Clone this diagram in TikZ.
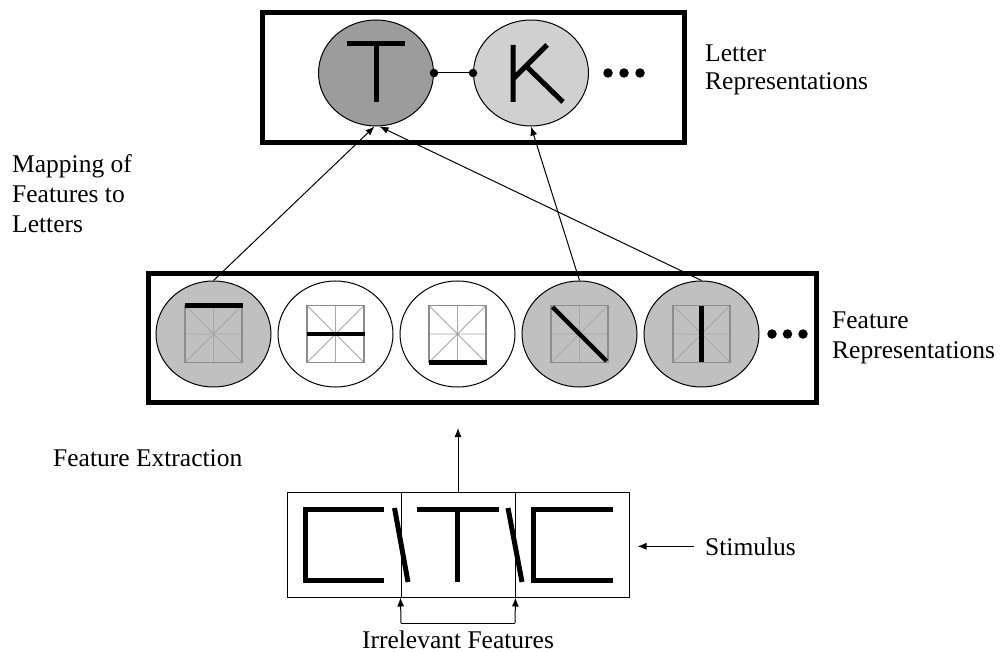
\documentclass[tikz,border=0pt]{standalone}
\usepackage{fontspec}
\setmainfont{Liberation Serif}
\usetikzlibrary{shapes.geometric,arrows.meta,calc}
\definecolor{darkfill}{HTML}{9C9C9C}
\definecolor{lightfill}{HTML}{D0D0D0}
\definecolor{featfill}{HTML}{C0C0C0}
\definecolor{gridgray}{HTML}{8C8C8C}
\definecolor{gridlight}{HTML}{A8A8A8}
\begin{document}
\begin{tikzpicture}[x=1pt,y=-1pt,
  lbl/.style={font=\fontsize{25.5}{30}\selectfont, inner sep=0pt, align=left},
  frame/.style={draw, line width=5pt, inner sep=0pt},
  unit/.style={ellipse, draw, line width=1pt, minimum width=115pt, minimum height=106pt, inner sep=0pt},
  stroke/.style={line width=5pt},
  bar/.style={line width=4.5pt},
  arr/.style={-{Latex[length=9pt,width=7pt]}, line width=1pt},
  cell/.style={draw, line width=1pt, minimum width=114pt, minimum height=105pt, inner sep=0pt},
  dot/.style={circle, fill, inner sep=0pt, minimum size=9.5pt},
  featgrid/.pic={
    \draw[gridlight, line width=0.9pt]
      (-28.5,-28.5) -- (28.5,28.5) (-28.5,28.5) -- (28.5,-28.5)
      (0,-28.5) -- (0,28.5) (-28.5,0) -- (28.5,0);
    \draw[gridgray, line width=1.6pt] (-28.5,-28.5) rectangle (28.5,28.5);
  }
]
\useasboundingbox (0,0) rectangle (1004,652);

% ---- letter level ----
\node[frame, minimum width=422pt, minimum height=130pt] (letters) at (473.5,77.5) {};
\node[unit, fill=darkfill] (T) at (376,73) {};
\node[unit, fill=lightfill] (K) at (531,73) {};
\draw[stroke] ($(T)+(-29,-29)$) -- ($(T)+(29,-29)$) ($(T)+(0,-29)$) -- ($(T)+(0,29)$);
\draw[stroke] ($(K)+(-18,-28)$) -- ($(K)+(-18,29)$)
              ($(K)+(-18,6)$) -- ($(K)+(16,-28)$)
              ($(K)+(-4,-6)$) -- ($(K)+(32,29)$);
\node[dot, minimum size=8.5pt] (tk1) at (T.east) {};
\node[dot, minimum size=8.5pt] (tk2) at (K.west) {};
\draw[line width=1pt] (tk1) -- (tk2);
\node[dot] (ld1) at (608,73) {};
\node[dot] (ld2) at (624,73) {};
\node[dot] (ld3) at (640,73) {};
\node[lbl, anchor=base west, font=\fontsize{25.5}{28}\selectfont] (letterlbl) at (705,90) {Letter\\Representations};

% ---- feature level ----
\node[frame, minimum width=668pt, minimum height=129pt] (features) at (482.5,338) {};
\node[unit, fill=featfill] (f1) at (213.5,334) {};
\node[unit, fill=white]    (f2) at (335.5,334) {};
\node[unit, fill=white]    (f3) at (457.5,334) {};
\node[unit, fill=featfill] (f4) at (579.5,334) {};
\node[unit, fill=featfill] (f5) at (701.5,334) {};
\foreach \f in {f1,f2,f3,f4,f5} \pic at (\f) {featgrid};
\draw[bar] ($(f1)+(-29,-28.5)$) -- ($(f1)+(29,-28.5)$);
\draw[bar] ($(f2)+(-29,0)$) -- ($(f2)+(29,0)$);
\draw[bar] ($(f3)+(-29,28.5)$) -- ($(f3)+(29,28.5)$);
\draw[bar] ($(f4)+(-27,-27)$) -- ($(f4)+(27,27)$);
\draw[bar] ($(f5)+(0,-28)$) -- ($(f5)+(0,28)$);
\node[dot] (fd1) at (772,334) {};
\node[dot] (fd2) at (787.5,334) {};
\node[dot] (fd3) at (803,334) {};
\node[lbl, anchor=base west] (featlbl) at (832,358) {Feature\\Representations};

% ---- mapping of features to letters ----
\draw[arr] (f1.north) -- ([xshift=-1.5pt]T.south);
\draw[arr] (f5.north) -- ([xshift=3.5pt]T.south);
\draw[arr] (f4.north) -- (K.south);
\node[lbl, anchor=base west] (maplbl) at (12,233) {Mapping of\\Features to\\Letters};

% ---- stimulus ----
\node[cell] (s1) at (344,544.5) {};
\node[cell] (s2) at (458,544.5) {};
\node[cell] (s3) at (572,544.5) {};
\draw[stroke, line join=miter] ($(s1)+(40,-35)$) -- ($(s1)+(-39,-35)$) -- ($(s1)+(-39,36)$) -- ($(s1)+(40,36)$);
\draw[stroke, line join=miter] ($(s3)+(41,-35)$) -- ($(s3)+(-39,-35)$) -- ($(s3)+(-39,36)$) -- ($(s3)+(41,36)$);
\draw[stroke] ($(s2)+(-41,-35.5)$) -- ($(s2)+(41,-35.5)$) ($(s2)+(-1,-35.5)$) -- ($(s2)+(-1,37.5)$);
\draw[stroke] ($(s1)+(50.5,-36.5)$) -- ($(s1)+(64,37.5)$);
\draw[stroke] ($(s3)+(-64,-36.5)$) -- ($(s3)+(-50,37.5)$);

% ---- feature extraction ----
\coordinate (fxtip) at (458,428);
\draw[arr] (s2.north) -- (fxtip);
\node[lbl, anchor=base west] (fxlbl) at (53,466) {Feature Extraction};

% ---- stimulus label ----
\node[lbl, anchor=base west] (stimlbl) at (705,555) {Stimulus};
\draw[arr] ([xshift=-11pt]stimlbl.west) -- ([xshift=8pt]s3.east |- stimlbl.west);

% ---- irrelevant features ----
\coordinate (ir1) at (401,623);
\coordinate (ir2) at (515,623);
\draw[arr] (ir1) -- (s2.south west);
\draw[arr] (ir2) -- (s2.south east);
\draw[line width=1pt] (ir1) -- (ir2);
\node[lbl, anchor=base] (irlbl) at (458,648) {Irrelevant Features};
\end{tikzpicture}
\end{document}
